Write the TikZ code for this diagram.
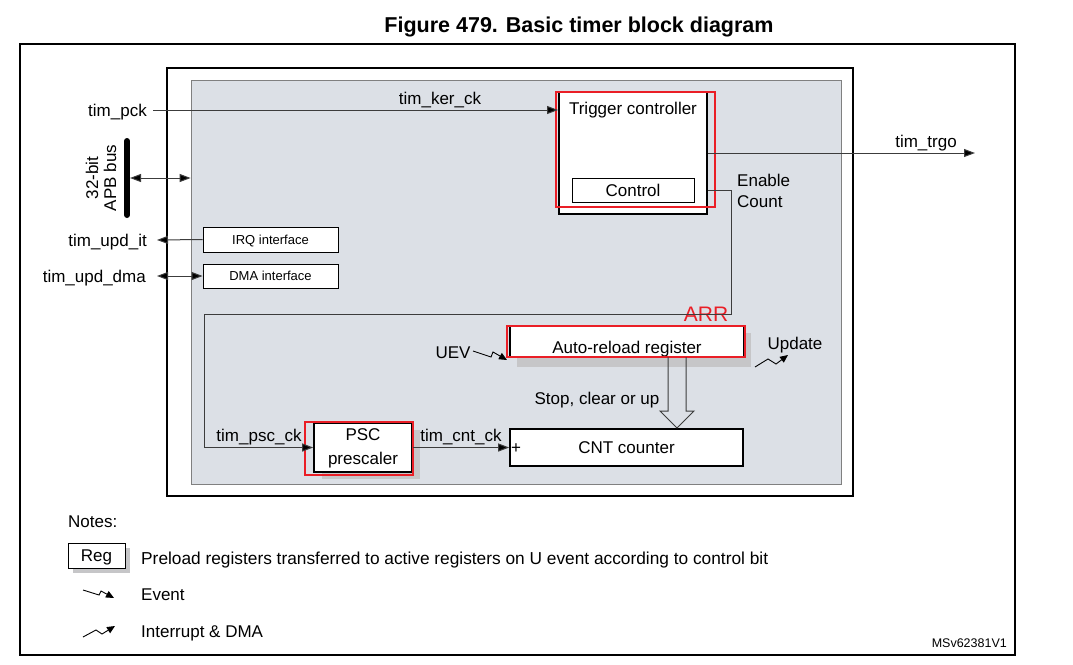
\documentclass[tikz,border=0pt]{standalone}
\usepackage{fontspec}
\setmainfont{Liberation Sans}
\usetikzlibrary{arrows.meta,calc}
\definecolor{coregray}{RGB}{220,224,230}
\definecolor{shadowgray}{RGB}{198,198,200}
\definecolor{hlred}{RGB}{234,30,38}
\definecolor{linegray}{RGB}{60,60,60}
\begin{document}
\begin{tikzpicture}[x=1pt,y=-1pt,
  lbl/.style={font=\fontsize{17}{20}\selectfont, inner sep=0pt, text height=12.2pt, text depth=0pt},
  mlbl/.style={font=\fontsize{17}{21}\selectfont, inner sep=0pt, align=center},
  small/.style={font=\fontsize{13}{15}\selectfont, inner sep=0pt, text height=9.3pt, text depth=0pt},
  box/.style={draw, fill=white, line width=1.6pt, inner sep=0pt},
  thinbox/.style={draw, fill=white, line width=0.9pt, inner sep=0pt},
  hl/.style={draw=hlred, line width=2pt},
  tip/.tip={Triangle[length=11pt,width=8pt,fill=black]},
  conn/.style={line width=1pt, draw=linegray, -{tip}},
  bconn/.style={line width=1pt, draw=linegray, {tip}-{tip}},
  evt/.style={line width=0.9pt, -{Triangle[length=8pt,width=7pt]}}
]
\useasboundingbox (0,0) rectangle (1073,664);

% title
\node[font=\fontsize{21.5}{24}\selectfont\bfseries, inner sep=0pt, text height=15.4pt, text depth=0pt] (title) at (579,24.5) {Figure 479. Basic timer block diagram};

% frames
\node[draw, line width=2pt, minimum width=995pt, minimum height=611pt, inner sep=0pt] (frame) at (517.5,349.5) {};
\node[draw, fill=white, line width=2pt, minimum width=686pt, minimum height=428pt, inner sep=0pt] (timer) at (510,282) {};
\node[draw=gray, fill=coregray, line width=0.8pt, minimum width=650pt, minimum height=404pt, inner sep=0pt] (core) at (516,282) {};

% shadows
\fill[shadowgray] (517,333) rectangle (751,367);
\fill[shadowgray] (322,430) rectangle (420,479);

% boxes
\node[box, line width=2pt, minimum width=148pt, minimum height=122pt] (trig) at (633,153) {};
\node[lbl] (trigtxt) at (633,108) {Trigger controller};
\node[thinbox, minimum width=122pt, minimum height=24pt, lbl] (ctrl) at (633,190) {Control};

\node[thinbox, minimum width=135pt, minimum height=25pt, small] (irq) at (270.5,239.5) {IRQ interface};
\node[thinbox, minimum width=135pt, minimum height=24pt, small] (dma) at (270.5,276) {DMA interface};

\node[box, minimum width=234pt, minimum height=31pt] (arr) at (627,341.5) {};
\node[lbl] (arrtxt) at (627,347) {Auto-reload register};

\node[box, minimum width=233pt, minimum height=37pt, lbl] (cnt) at (626.5,447.5) {CNT counter};
\node[lbl] (plus) at (516,447) {+};

\node[box, minimum width=98pt, minimum height=49pt] (psc) at (363,447.5) {};
\node[font=\fontsize{17}{24}\selectfont, inner sep=0pt, align=center] (psctxt) at (363,448.5) {PSC\\prescaler};

% red highlight rectangles
\draw[hl] (556,92) rectangle (715,207);
\draw[hl] (507,326) rectangle (745,357);
\draw[hl] (305,422) rectangle (413,475);
\node[font=\fontsize{21}{24}\selectfont, text=hlred, inner sep=0pt] (arrlbl) at (706,314) {ARR};

% external labels
\node[lbl, anchor=east] (pck) at (147,110) {tim\_pck};
\node[lbl, anchor=east] (updit) at (147,240) {tim\_upd\_it};
\node[lbl, anchor=east] (upddma) at (146,276) {tim\_upd\_dma};
\node[mlbl, rotate=90, font=\fontsize{17}{18}\selectfont] (apb) at (101,178) {32-bit\\APB bus};
\node[lbl] (kerck) at (440,98) {tim\_ker\_ck};
\node[lbl] (trgolbl) at (926,141) {tim\_trgo};
\node[mlbl, anchor=west, align=left] (encnt) at (737,190.5) {Enable\\Count};
\node[lbl] (pscck) at (259,435) {tim\_psc\_ck};
\node[lbl] (cntck) at (461,435) {tim\_cnt\_ck};
\node[lbl] (stop) at (597,398) {Stop, clear or up};
\node[lbl] (uev) at (453,352) {UEV};
\node[lbl] (upd) at (795,343) {Update};

% APB bus bar
\coordinate (bustop) at (127,141);
\coordinate (busbot) at (127,215);
\draw[line width=6pt, line cap=round] (bustop) -- (busbot);
\coordinate (busarr) at (130,178);

% connectors
\draw[conn] ([xshift=6pt]pck.east) -- (pck.east -| trig.west);
\draw[bconn] (busarr) -- (busarr -| core.west);
\draw[conn] (irq.west) -- ([xshift=10pt]updit.east);
\draw[bconn] ([xshift=11pt]upddma.east) -- (dma.west);
\coordinate (trgo) at (975,153);
\draw[conn] (trig.east) -- (trgo);
\coordinate (e2) at (731,314);
\coordinate (e4) at (204,447.5);
\draw[conn] (trig.east |- ctrl.east) -| (e2) -| (e4) -- (psc.west);
\draw[conn] (psc.east) -- (cnt.west);

% hollow arrow ARR -> CNT
\draw[line width=1pt, draw=linegray] (668,357) -- (668,411) -- (660,411) -- (677,428) -- (694,411) -- (686,411) -- (686,357);

% event / interrupt symbols
\draw[evt] (473,351) -- (491,357) -- (493,352) -- (507,360);
\draw[evt] (755,367) -- (768,359) -- (776,364) -- (788,355);

% notes
\node[lbl, anchor=west] (notes) at (68,521) {Notes:};
\fill[shadowgray] (73,548) rectangle (130,573);
\node[thinbox, minimum width=57pt, minimum height=25pt, lbl] (reg) at (96.5,555.5) {Reg};
\node[lbl, anchor=west, font=\fontsize{17.3}{20}\selectfont] (regtxt) at (141,558) {Preload registers transferred to active registers on U event according to control bit};
\draw[evt] (83,590) -- (99,595) -- (101,591) -- (114,598);
\node[lbl, anchor=west] (evtxt) at (141,594) {Event};
\draw[evt] (83,637) -- (96,630) -- (102,634) -- (115,626);
\node[lbl, anchor=west] (irqtxt) at (141,631) {Interrupt \& DMA};
\node[font=\fontsize{12.5}{14}\selectfont, inner sep=0pt, anchor=east] (ms) at (1007,643) {MSv62381V1};
\end{tikzpicture}
\end{document}
